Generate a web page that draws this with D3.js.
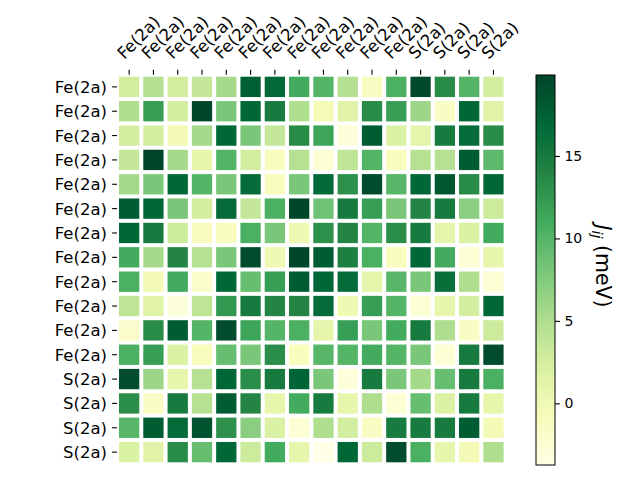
<!DOCTYPE html>
<html><head><meta charset="utf-8">
<script src="https://cdn.jsdelivr.net/npm/d3@7"></script>
<style>body{margin:0;background:#fff}svg{display:block}text{font-family:"DejaVu Sans",sans-serif;fill:#000}</style>
</head><body><svg id="c" width="640" height="480"></svg>
<script>
const colLabels = ["Fe(2a)","Fe(2a)","Fe(2a)","Fe(2a)","Fe(2a)","Fe(2a)","Fe(2a)","Fe(2a)","Fe(2a)","Fe(2a)","Fe(2a)","Fe(2a)","S(2a)","S(2a)","S(2a)","S(2a)"];
const rowLabels = colLabels.slice();
const values = [
 [2.6, 4.6, 2.6, 3.5, 5.6, 17.6, 16.8, 11, 10, 4.6, -1.5, 10.5, 19.5, 13.5, 10, 2.5],
 [5, 12, 2.5, 19.8, 8, 17, 15, 5, -0.5, 1.5, 13.5, 12, 6, -1.5, 17, 1.5],
 [2.5, 2.6, -0.3, 5.5, 17, 8, 3.5, 13.5, 11.5, -3, 18, 2, 1, 15, 16.5, 13.5],
 [3.5, 19.91, 5.5, 0.8, 10, 2.5, -1, 4.5, -2.5, 4, 10, -1, 4.5, 4.5, 18, 9.5],
 [5.5, 8, 17, 10, 8, 16.5, -1, 8, 16.8, 13, 19.3, 9.8, 17, 18.3, 13.5, 17],
 [18, 17, 8, 2.5, 16.5, 3.5, 10.5, 19.8, 8.5, 15, 12, 8, 14, 15, 7, 3],
 [17, 15, 3, -1, -1.2, 10.5, 8, 0, 13, 14, 10, 13.3, 15, 1, 2, 11],
 [11, 5.5, 14, 4.5, 8, 19.3, 0, 19.8, 18, 14.5, 10.5, -1, 17, 11, -2.5, 0.8],
 [10.5, -0.3, 11, -2, 17, 9, 12, 18, 17, 16.5, 1, 9.8, 8, 16.3, 5, -2.5],
 [4, 1.5, -3, 4, 12.5, 15, 14, 14, 16.5, 0, 12, 10, -2.5, 0.8, 2.5, 17],
 [-2, 13.5, 18, 10, 19.3, 11.5, 10, 10.5, 1, 12, 8, 11, 15, 5, -1.5, 3],
 [10.5, 12, 2, -1, 9, 8, 13.3, -1, 9.8, 10, 11, 10, 8, -2.5, 15, 19.3],
 [19.3, 6, 0.8, 4.5, 17, 13.3, 15, 17.2, 8, -3, 15, 8, 5.5, 9, 15, 10.5],
 [13.3, -1.5, 15, 4.5, 18, 14, 0.8, 11, 15, 0.8, 5, -2.5, 9, 2, 15, 0.8],
 [9.8, 18, 16.5, 18.7, 13, 7, 2, -2.5, 5, 2.5, -1.5, 15, 15, 15, 18, -0.3],
 [2, 1.5, 13.5, 9, 17, 3, 11, 0.8, -3.74, 17, 3, 19.3, 10.5, 0.8, -0.3, 5]
];
const cbTicks = [0, 5, 10, 15];
const ylgn = ["#ffffe5","#f7fcb9","#d9f0a3","#addd8e","#78c679","#41ab5d","#238443","#006837","#004529"];

const svg = d3.select("#c");
const L = 117, R = 505.6, T = 74.7, B = 464.3;
const idx = d3.range(16);
const x = d3.scaleBand().domain(idx).range([L, R]).padding(0);
const y = d3.scaleBand().domain(idx).range([T, B]).padding(0);
const ext = d3.extent(values.flat());
const t = d3.scaleLinear().domain(ext).range([0, 1]);
const cmap = d3.scaleLinear().domain(d3.range(9).map(i => i / 8)).range(ylgn).interpolate(d3.interpolateRgb);
const color = v => cmap(t(v));

const cells = [];
values.forEach((row, r) => row.forEach((v, c) => cells.push({r, c, v})));
const g = 2;
svg.append("g").selectAll("rect").data(cells).join("rect")
  .attr("x", d => x(d.c) + g).attr("y", d => y(d.r) + g)
  .attr("width", x.bandwidth() - 2 * g).attr("height", y.bandwidth() - 2 * g)
  .attr("fill", d => color(d.v));

// top axis
const xa = svg.append("g").attr("transform", `translate(0,${T})`)
  .call(d3.axisTop(x).tickSize(4.9).tickFormat(""));
xa.select(".domain").remove();
xa.selectAll(".tick line").attr("stroke", "#000").attr("stroke-width", 1.1);
svg.append("g").selectAll("text").data(idx).join("text")
  .attr("transform", i => `translate(${x(i) + x.bandwidth() / 2 - 5},60) rotate(-45)`)
  .attr("font-size", 16.5).text(i => colLabels[i]);

// left axis
const ya = svg.append("g").attr("transform", `translate(${L},0)`)
  .call(d3.axisLeft(y).tickSize(4.9).tickFormat(""));
ya.select(".domain").remove();
ya.selectAll(".tick line").attr("stroke", "#000").attr("stroke-width", 1.1);
svg.append("g").selectAll("text").data(idx).join("text")
  .attr("x", 107).attr("y", i => y(i) + y.bandwidth() / 2).attr("dy", "0.36em")
  .attr("text-anchor", "end").attr("font-size", 16.5).text(i => rowLabels[i]);

// colorbar
const cbL = 536, cbR = 555, cbT = 75, cbB = 465;
const cy = d3.scaleLinear().domain(ext).range([cbB, cbT]);
const grad = svg.append("defs").append("linearGradient").attr("id", "gr")
  .attr("x1", 0).attr("y1", 1).attr("x2", 0).attr("y2", 0);
d3.range(0, 1.0001, 1 / 64).forEach(s => grad.append("stop").attr("offset", s).attr("stop-color", cmap(s)));
svg.append("rect").attr("x", cbL).attr("y", cbT).attr("width", cbR - cbL).attr("height", cbB - cbT)
  .attr("fill", "url(#gr)").attr("stroke", "#000").attr("stroke-width", 1);
const ca = svg.append("g").attr("transform", `translate(${cbR},0)`)
  .call(d3.axisRight(cy).tickValues(cbTicks).tickSize(4.9).tickPadding(4.5));
ca.select(".domain").remove();
ca.selectAll(".tick line").attr("stroke", "#000").attr("stroke-width", 1.1);
ca.selectAll(".tick text").attr("font-size", 14).attr("font-family", "DejaVu Sans").attr("fill", "#000");

const lab = svg.append("text").attr("transform", "translate(596,266) rotate(90)")
  .attr("text-anchor", "middle").attr("font-size", 20.5);
lab.append("tspan").attr("font-style", "italic").text("J");
lab.append("tspan").attr("font-style", "italic").attr("font-size", 14.5).attr("dy", 4).text("ij");
lab.append("tspan").attr("dy", -4).text(" (meV)");
</script></body></html>
